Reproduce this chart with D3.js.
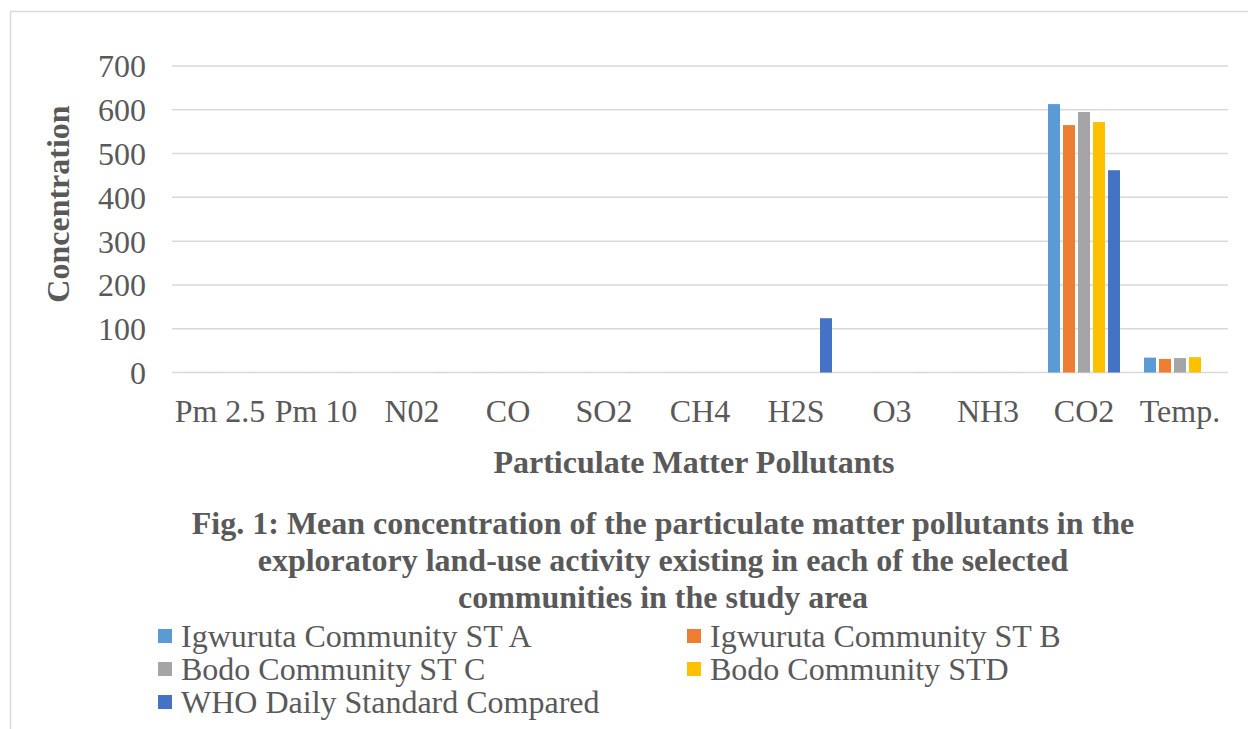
<!DOCTYPE html>
<html><head><meta charset="utf-8">
<script src="https://cdn.jsdelivr.net/npm/d3@7"></script>
<style>html,body{margin:0;padding:0;background:#fff;}</style>
</head><body>
<svg id="c" width="1248" height="729"></svg>
<script>
const categories = ["Pm 2.5","Pm 10","N02","CO","SO2","CH4","H2S","O3","NH3","CO2","Temp."];
const seriesNames = ["Igwuruta Community ST A","Igwuruta Community ST B","Bodo Community ST C","Bodo Community STD","WHO Daily Standard Compared"];
const stA = [0.05,0.08,0.02,0.1,0.02,0.05,0.01,0.02,0.05,613,34];
const stB = [0.04,0.07,0.02,0.1,0.02,0.05,0.01,0.02,0.05,565,31];
const stC = [0.05,0.08,0.02,0.1,0.02,0.05,0.01,0.02,0.05,595,33];
const stD = [0.04,0.07,0.02,0.1,0.02,0.05,0.01,0.02,0.05,572,35];
const who = [0.03,0.05,0.1,0.1,0.1,0,124,0.1,0.1,462,0];
const yTicks = [0,100,200,300,400,500,600,700];
const colors = ["#5b9bd5","#ed7d31","#a5a5a5","#ffc000","#4472c4"];

const series = [stA,stB,stC,stD,who];
const svg = d3.select("#c");
const serif = "'Liberation Serif','Times New Roman',serif";
const grey = "#595959";

// outer frame (top and left edges)
svg.append("line").attr("x1",10).attr("x2",1248).attr("y1",11.5).attr("y2",11.5).attr("stroke","#d9d9d9").attr("stroke-width",1.5);
svg.append("line").attr("x1",10.5).attr("x2",10.5).attr("y1",11).attr("y2",729).attr("stroke","#d9d9d9").attr("stroke-width",1.5);

const pLeft=172, pRight=1228, pTop=66, pBottom=372.5;
const x = d3.scaleBand().domain(categories).range([pLeft,pRight]).paddingInner(0).paddingOuter(0);
const y = d3.scaleLinear().domain([0,700]).range([pBottom,pTop]);
// group width 72 of 96 => outer 12px each side
const x1b = d3.scaleBand().domain(d3.range(5)).range([x.bandwidth()*0.125, x.bandwidth()*0.875]).paddingInner(0.2);

// gridlines
svg.append("g").selectAll("line").data(yTicks).join("line")
  .attr("x1",pLeft).attr("x2",pRight)
  .attr("y1",d=>y(d)).attr("y2",d=>y(d))
  .attr("stroke","#d9d9d9").attr("stroke-width",1.5);

// y axis labels
const yAxis = d3.axisLeft(y).tickValues(yTicks).tickSize(0).tickPadding(0);
const ya = svg.append("g").attr("transform",`translate(146,0)`).call(yAxis);
ya.select(".domain").remove();
ya.selectAll("text").attr("font-family",serif).attr("font-size",32).attr("fill",grey).attr("dy","0.34em");

// x axis labels
const xAxis = d3.axisBottom(x).tickSize(0).tickPadding(0);
const xa = svg.append("g").attr("transform",`translate(0,${pBottom})`).call(xAxis);
xa.select(".domain").remove();
xa.selectAll("text").attr("font-family",serif).attr("font-size",32).attr("fill",grey).attr("y",27).attr("dy","0.71em");

// bars
series.forEach((vals,si)=>{
  svg.append("g").selectAll("rect").data(vals.map((v,i)=>({v,c:categories[i]}))).join("rect")
    .attr("x",d=>x(d.c)+x1b(si))
    .attr("width",x1b.bandwidth())
    .attr("y",d=>y(d.v))
    .attr("height",d=>pBottom-y(d.v))
    .attr("fill",colors[si]);
});

// axis titles
svg.append("text").attr("transform","translate(69,204) rotate(-90)").attr("text-anchor","middle")
  .attr("font-family",serif).attr("font-weight","bold").attr("font-size",32).attr("fill",grey).text("Concentration");
svg.append("text").attr("x",694).attr("y",473).attr("text-anchor","middle")
  .attr("font-family",serif).attr("font-weight","bold").attr("font-size",32).attr("fill",grey).text("Particulate Matter Pollutants");

// caption
const caption = ["Fig. 1: Mean concentration of the particulate matter pollutants in the",
  "exploratory land-use activity existing in each of the selected",
  "communities in the study area"];
svg.append("g").selectAll("text").data(caption).join("text")
  .attr("x",663).attr("y",(d,i)=>534+i*37).attr("text-anchor","middle")
  .attr("font-family",serif).attr("font-weight","bold").attr("font-size",32).attr("fill",grey).text(d=>d);

// legend
const legPos = [[158,636],[687,636],[158,669],[687,669],[158,702]];
const lg = svg.append("g").selectAll("g").data(seriesNames).join("g")
  .attr("transform",(d,i)=>`translate(${legPos[i][0]},${legPos[i][1]})`);
lg.append("rect").attr("x",0).attr("y",-7).attr("width",14).attr("height",14).attr("fill",(d,i)=>colors[i]);
lg.append("text").attr("x",23).attr("y",0).attr("dy","0.35em")
  .attr("font-family",serif).attr("font-size",32).attr("fill",grey).text(d=>d);
</script>
</body></html>
